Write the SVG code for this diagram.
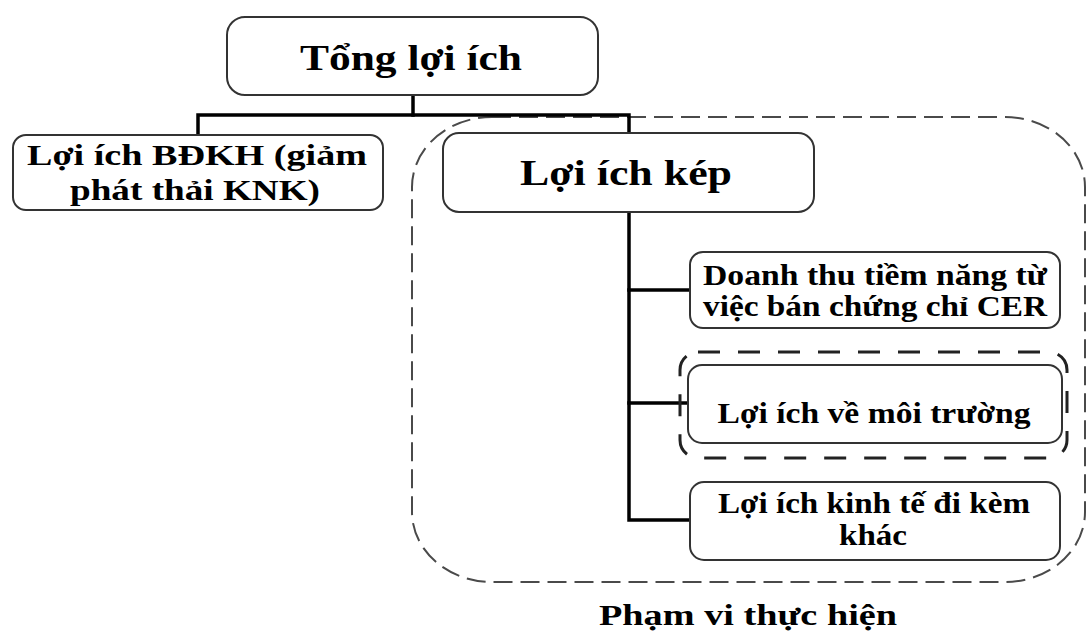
<svg xmlns="http://www.w3.org/2000/svg" width="1086" height="633" viewBox="0 0 1086 633">
<style>
.box{fill:#fff;stroke:#333;stroke-width:2}
.t{font-family:"Liberation Serif","Times New Roman",serif;font-weight:bold;fill:#000;text-anchor:middle}
.conn{fill:none;stroke:#000;stroke-width:3.5;stroke-linecap:square}
.outer{fill:none;stroke:#4a4a4a;stroke-width:2;stroke-dasharray:19 8}
.inner{fill:none;stroke:#222;stroke-width:3;stroke-dasharray:22 18}
</style>
<rect width="1086" height="633" fill="#fff"/>
<g id="scope">
<rect class="outer" x="412" y="117" width="673" height="465" rx="80" ry="70"/>
<text class="t" x="748" y="625" font-size="30" textLength="298" lengthAdjust="spacingAndGlyphs">Phạm vi thực hiện</text>
</g>
<g id="connectors">
<polyline class="conn" points="413,96 413,115"/>
<polyline class="conn" points="198,134 198,115 629,115 629,133"/>
<polyline class="conn" points="629,212 629,520 689,520"/>
<line class="conn" x1="629" y1="290" x2="689" y2="290"/>
<line class="conn" x1="629" y1="403" x2="687" y2="403"/>
</g>
<g id="n-tong">
<rect class="box" x="227" y="17" width="371" height="78" rx="18"/>
<text class="t" x="411" y="70" font-size="36" textLength="222" lengthAdjust="spacingAndGlyphs">Tổng lợi ích</text>
</g>
<g id="n-bdkh">
<rect class="box" x="13" y="135" width="370" height="75" rx="13"/>
<text class="t" x="197" y="165" font-size="30" textLength="340" lengthAdjust="spacingAndGlyphs">Lợi ích BĐKH (giảm</text>
<text class="t" x="195" y="200" font-size="30" textLength="250" lengthAdjust="spacingAndGlyphs">phát thải KNK)</text>
</g>
<g id="n-kep">
<rect class="box" x="443" y="133" width="371" height="79" rx="16"/>
<text class="t" x="626" y="185" font-size="35" textLength="212" lengthAdjust="spacingAndGlyphs">Lợi ích kép</text>
</g>
<g id="n-doanhthu">
<rect class="box" x="690" y="252" width="370" height="76" rx="13"/>
<text class="t" x="875" y="285" font-size="29" textLength="344" lengthAdjust="spacingAndGlyphs">Doanh thu tiềm năng từ</text>
<text class="t" x="875" y="316" font-size="29" textLength="344" lengthAdjust="spacingAndGlyphs">việc bán chứng chỉ CER</text>
</g>
<g id="n-moitruong">
<rect class="inner" x="680" y="352" width="387" height="106" rx="18"/>
<rect class="box" x="688" y="365" width="374" height="78" rx="14"/>
<text class="t" x="874" y="423" font-size="29" textLength="313" lengthAdjust="spacingAndGlyphs">Lợi ích về môi trường</text>
</g>
<g id="n-kinhte">
<rect class="box" x="690" y="482" width="370" height="78" rx="14"/>
<text class="t" x="874" y="513" font-size="29" textLength="312" lengthAdjust="spacingAndGlyphs">Lợi ích kinh tế đi kèm</text>
<text class="t" x="873" y="545" font-size="29" textLength="68" lengthAdjust="spacingAndGlyphs">khác</text>
</g>
</svg>
